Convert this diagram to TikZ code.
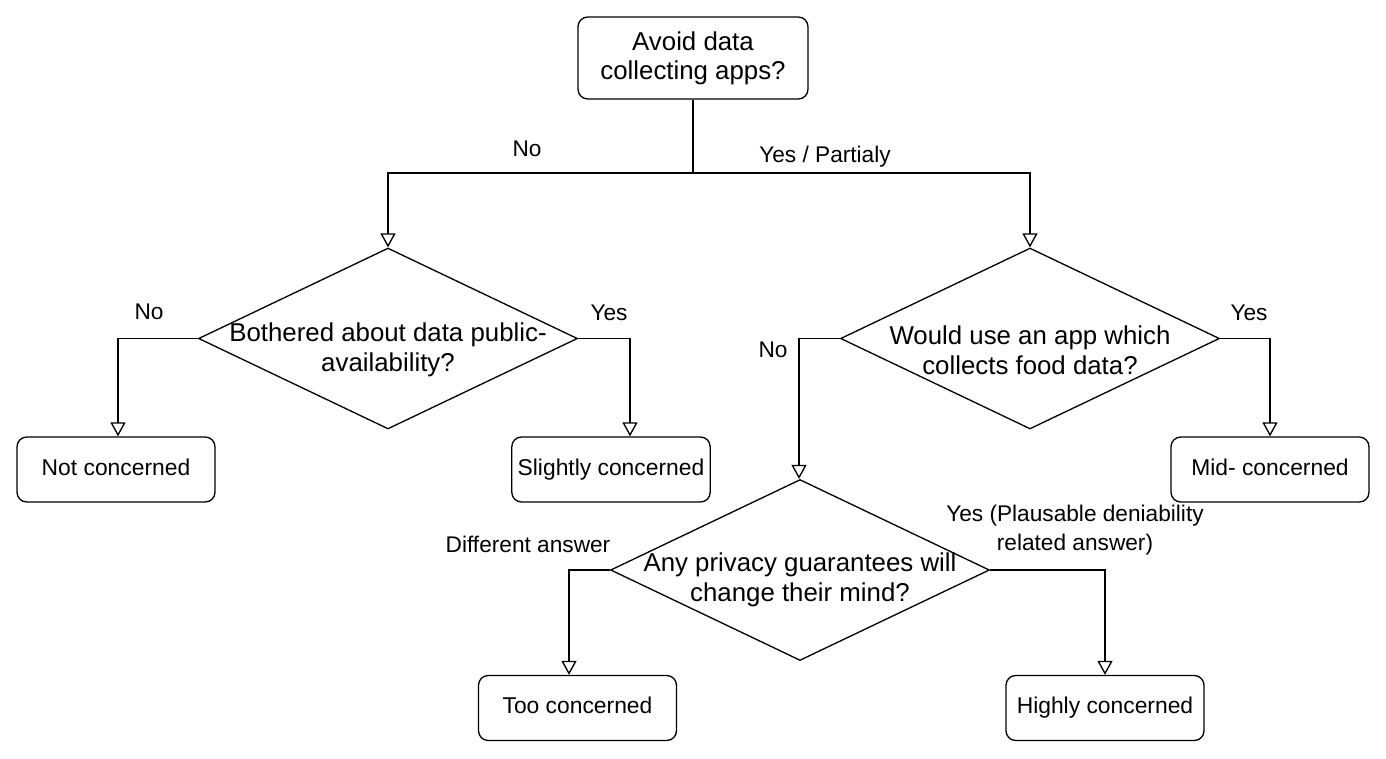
\documentclass[tikz,border=0pt]{standalone}
\usepackage{fontspec}
\setmainfont{Liberation Sans}
\usetikzlibrary{shapes.geometric, arrows.meta, positioning, calc}

\begin{document}
\begin{tikzpicture}[x=0.02cm, y=-0.02cm, line width=0.75pt,
	startbox/.style={draw, rounded corners=5.5pt, minimum width=4.6cm, minimum height=1.64cm,
		align=center, font=\fontsize{14.7}{16.4}\selectfont},
	endbox/.style={draw, rounded corners=5.5pt, minimum width=3.96cm, minimum height=1.3cm,
		text height=9.4pt, text depth=2.8pt, font=\fontsize{13}{15}\selectfont},
	decision/.style={draw, diamond, minimum width=7.58cm, minimum height=3.62cm, inner sep=0pt},
	qtext/.style={align=center, font=\fontsize{14.7}{17}\selectfont},
	answer/.style={align=center, font=\fontsize{12.9}{16.4}\selectfont},
	flow/.style={-{Triangle[open, length=0.28cm, width=0.3cm]}}]
	\useasboundingbox (0,0) rectangle (1386,758);

	% question nodes
	\node[startbox] (start) at (693,58) {Avoid data\\collecting apps?};
	\node[decision] (q1) at (388,338.5) {};
	\node[qtext] (q1txt) at (388,350) {Bothered about data public-\\availability?};
	\node[decision] (q2) at (1030,338.5) {};
	\node[qtext] (q2txt) at (1030,350) {Would use an app which\\collects food data?};
	\node[decision] (q3) at (800,570) {};
	\node[qtext] (q3txt) at (800,580) {Any privacy guarantees will\\change their mind?};

	% outcomes
	\node[endbox] (notc) at (116,469.5) {Not concerned};
	\node[endbox] (slightc) at (611,469.5) {Slightly concerned};
	\node[endbox] (midc) at (1270,469.5) {Mid- concerned};
	\node[endbox] (tooc) at (577.5,708) {Too concerned};
	\node[endbox] (highc) at (1105,708) {Highly concerned};

	% connectors
	\coordinate (split) at (693,173);
	\draw (start.south) -- (split);
	\draw[flow] (split) -| (q1.north);
	\draw[flow] (split) -| (q2.north);
	\draw[flow] (q1.west) -| ([xshift=0.04cm]notc.north);
	\draw[flow] (q1.east) -| ([xshift=0.38cm]slightc.north);
	\draw[flow] (q2.west) -| ([xshift=-0.02cm]q3.north);
	\draw[flow] (q2.east) -| (midc.north);
	\draw[flow] (q3.west) -| ([xshift=-0.17cm]tooc.north);
	\draw[flow] (q3.east) -| (highc.north);

	% answers
	\node[answer] (a1) at (527,149) {No};
	\node[answer] (a2) at (825,157) {Yes / Partialy};
	\node[answer] (a3) at (149,312) {No};
	\node[answer] (a4) at (609,313) {Yes};
	\node[answer] (a5) at (773,350) {No};
	\node[answer] (a6) at (1249,313) {Yes};
	\node[answer] (a7) at (528,544) {Different answer};
	\node[answer] (a8) at (1075,530) {Yes (Plausable deniability\\related answer)};
\end{tikzpicture}
\end{document}
